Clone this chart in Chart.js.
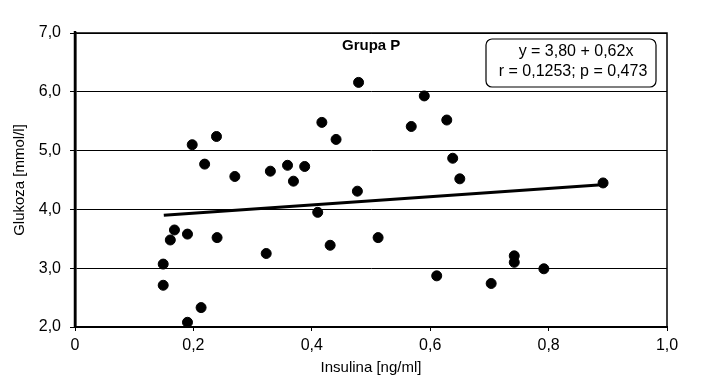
<!DOCTYPE html>
<html><head><meta charset="utf-8">
<script src="https://cdn.jsdelivr.net/npm/chart.js@4/dist/chart.umd.min.js"></script>
<style>html,body{margin:0;padding:0;background:#fff}#wrap{width:703px;height:389px}</style>
</head><body><div id="wrap"><canvas id="c" width="703" height="389"></canvas></div>
<script>
const insulina = [0.149,0.149,0.161,0.168,0.190,0.190,0.198,0.213,0.219,0.239,0.240,0.270,0.323,0.330,0.359,0.369,0.388,0.410,0.417,0.431,0.441,0.479,0.477,0.512,0.568,0.590,0.611,0.628,0.638,0.650,0.703,0.742,0.742,0.792,0.892];
const glukoza  = [3.07,2.71,3.48,3.65,3.58,2.08,5.10,2.33,4.77,5.24,3.52,4.56,3.25,4.65,4.75,4.48,4.73,3.95,5.48,3.39,5.19,6.16,4.31,3.52,5.41,5.93,2.87,5.52,4.87,4.52,2.74,3.21,3.10,2.99,4.45];
const lineX = [0.15, 0.89];
const lineY = [3.90, 4.42];
const xTicks = [0,0.2,0.4,0.6,0.8,1.0];
const yTicks = [2,3,4,5,6,7];
const titleText = 'Grupa P';
const boxLines = ['y = 3,80 + 0,62x','r = 0,1253; p = 0,473'];
const xTitle = 'Insulina [ng/ml]';
const yTitle = 'Glukoza [mmol/l]';

const FONT = "'Liberation Sans Narrow','Arial Narrow','Liberation Sans',Arial,sans-serif";
const fmtX = v => v === 0 ? '0' : v.toFixed(1).replace('.', ',');
const fmtY = v => v.toFixed(1).replace('.', ',');

const overlay = {
  id: 'overlay',
  afterDraw(chart) {
    const ctx = chart.ctx, a = chart.chartArea;
    ctx.save();
    ctx.strokeStyle = '#000';
    ctx.lineWidth = 1.5;
    ctx.beginPath();
    ctx.moveTo(a.left, a.top); ctx.lineTo(a.right, a.top); ctx.lineTo(a.right, a.bottom);
    ctx.stroke();
    ctx.lineWidth = 2.5;
    ctx.beginPath(); ctx.moveTo(a.left, a.top - 2); ctx.lineTo(a.left, a.bottom + 1); ctx.stroke();
    ctx.fillStyle = '#000';
    ctx.font = "bold 15px " + FONT;
    ctx.textAlign = 'left'; ctx.textBaseline = 'middle';
    ctx.fillText(titleText, 342, 46);
    const bx = 486, by = 39, bw = 170, bh = 48, r = 6;
    ctx.lineWidth = 1.2;
    ctx.beginPath();
    ctx.moveTo(bx + r, by); ctx.lineTo(bx + bw - r, by); ctx.arcTo(bx + bw, by, bx + bw, by + r, r);
    ctx.lineTo(bx + bw, by + bh - r); ctx.arcTo(bx + bw, by + bh, bx + bw - r, by + bh, r);
    ctx.lineTo(bx + r, by + bh); ctx.arcTo(bx, by + bh, bx, by + bh - r, r);
    ctx.lineTo(bx, by + r); ctx.arcTo(bx, by, bx + r, by, r);
    ctx.closePath();
    ctx.fillStyle = '#fff'; ctx.fill(); ctx.stroke();
    ctx.fillStyle = '#000';
    ctx.font = "16px " + FONT;
    ctx.textAlign = 'center';
    ctx.fillText(boxLines[0], 576, 52);
    ctx.fillText(boxLines[1], 573, 72);
    ctx.restore();
  }
};

new Chart(document.getElementById('c'), {
  type: 'scatter',
  data: {
    datasets: [
      {
        type: 'line',
        data: lineX.map((x, i) => ({x, y: lineY[i]})),
        borderColor: '#000', borderWidth: 3, pointRadius: 0, fill: false, order: 2
      },
      {
        data: insulina.map((x, i) => ({x, y: glukoza[i]})),
        backgroundColor: '#000', borderColor: '#000', pointRadius: 5, pointHoverRadius: 5, order: 1
      }
    ]
  },
  options: {
    responsive: false, animation: false,
    layout: {padding: {top: 33, right: 36, left: 0, bottom: 0}},
    plugins: {legend: {display: false}, tooltip: {enabled: false}},
    scales: {
      x: {
        type: 'linear', min: 0, max: 1,
        afterBuildTicks: ax => { ax.ticks = xTicks.map(v => ({value: v})); },
        afterFit: ax => { ax.height = 62; },
        grid: {display: true, drawOnChartArea: false, drawTicks: true, tickLength: 4, color: '#000', lineWidth: 1},
        border: {display: true, color: '#000', width: 2},
        ticks: {color: '#000', font: {family: FONT, size: 16}, padding: 5, callback: v => fmtX(v), maxRotation: 0},
        title: {display: true, text: xTitle, color: '#000', font: {family: FONT, size: 15}, padding: {top: 2, bottom: 12}}
      },
      y: {
        type: 'linear', min: 2, max: 7,
        afterBuildTicks: ax => { ax.ticks = yTicks.map(v => ({value: v})); },
        afterFit: ax => { ax.width = 75; },
        grid: {display: true, color: '#000', lineWidth: 1, drawTicks: true, tickLength: 5},
        border: {display: true, color: '#000', width: 2.5},
        ticks: {color: '#000', font: {family: FONT, size: 16}, padding: 9, callback: v => fmtY(v)},
        title: {display: true, text: yTitle, color: '#000', font: {family: FONT, size: 15}, padding: {top: 11, bottom: 4}}
      }
    }
  },
  plugins: [overlay]
});
</script></body></html>
